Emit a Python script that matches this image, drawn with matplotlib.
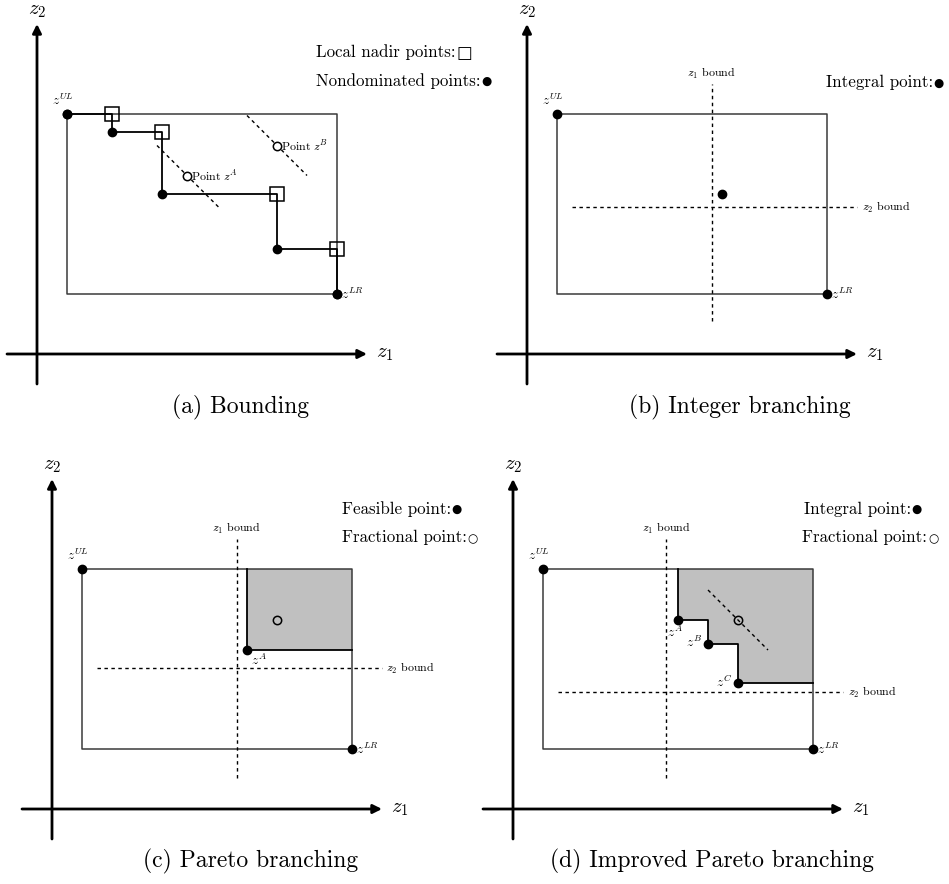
import numpy as np
import matplotlib.pyplot as plt

plt.rcParams['font.family'] = ['cmr10', 'DejaVu Sans']
plt.rcParams['mathtext.fontset'] = 'cm'
plt.rcParams['axes.unicode_minus'] = False

W, H = 949, 884
S = 15.0  # pixels per unit

# ---------------- data ----------------
axis_lo, axis_hi = -2, 22
box_z1 = [2, 20]          # z^UL z1, z^LR z1
box_z2 = [4, 16]          # z^LR z2, z^UL z2

# (a) bounding
a_nd_z1 = [2, 5, 8.3, 16, 20]
a_nd_z2 = [16, 14.8, 10.7, 7, 4]
a_frac_z1 = [10, 16]
a_frac_z2 = [11.9, 13.9]
a_frac_labels = ['Point $z^A$', 'Point $z^B$']
a_cut_z1 = [[8, 12.1], [14, 18]]
a_cut_z2 = [[13.9, 9.8], [15.9, 11.9]]

# (b) integer branching
b_pt = (13, 10.7)
b_z1_bound, b_z1_span = 12.3, [2.2, 18]
b_z2_bound, b_z2_span = 9.8, [3, 22]

# (c) Pareto branching
c_zA = (13, 10.6)
c_frac = (15, 12.6)
c_z1_bound, c_z1_span = 12.3, [2.1, 18]
c_z2_bound, c_z2_span = 9.4, [3, 22]

# (d) improved Pareto branching
d_pts_z1 = [11, 13, 15]
d_pts_z2 = [12.6, 11, 8.4]
d_pts_labels = ['$z^A$', '$z^B$', '$z^C$']
d_frac = (15, 12.6)
d_cut_z1 = [13, 17]
d_cut_z2 = [14.6, 10.6]
d_z1_bound, d_z1_span = 10.2, [2.1, 18]
d_z2_bound, d_z2_span = 7.8, [3, 22]

# ---------------- layout ----------------
fig = plt.figure(figsize=(W / 100, H / 100), dpi=100)

def panel(px0, py0, pw, ph, ox, oy):
    ax = fig.add_axes([px0 / W, 1 - (py0 + ph) / H, pw / W, ph / H])
    ax.set_xlim((px0 - ox) / S, (px0 + pw - ox) / S)
    ax.set_ylim((oy - (py0 + ph)) / S, (oy - py0) / S)
    ax.axis('off')
    ax.patch.set_alpha(0)
    return ax

BOX = '#3a3a3a'
DASH = (0, (2.5, 2.5))
SMALL = 8.6
PLAB = 9.6

def axes_arrows(ax):
    ap = dict(arrowstyle='-|>', lw=2, color='k', mutation_scale=13,
              shrinkA=0, shrinkB=0)
    ax.annotate('', xy=(axis_hi, 0), xytext=(axis_lo, 0), arrowprops=ap)
    ax.annotate('', xy=(0, axis_hi), xytext=(0, axis_lo), arrowprops=ap)
    ax.text(axis_hi + 0.6, 0, '$z_1$', fontsize=15, ha='left', va='center')
    ax.text(0, axis_hi + 0.25, '$z_2$', fontsize=15, ha='center', va='bottom')

def box(ax):
    x0, x1 = box_z1
    y0, y1 = box_z2
    ax.plot([x0, x1, x1, x0, x0], [y1, y1, y0, y0, y1], color=BOX, lw=1.1,
            zorder=2)

def corners(ax):
    ax.plot(box_z1, box_z2[::-1], 'o', color='k', ms=6, zorder=5)
    ax.annotate('$z^{UL}$', (box_z1[0], box_z2[1]), xytext=(-3, 4),
                textcoords='offset points', ha='center', va='bottom',
                fontsize=PLAB)
    ax.annotate('$z^{LR}$', (box_z1[1], box_z2[0]), xytext=(3, 0),
                textcoords='offset points', ha='left', va='center',
                fontsize=PLAB)

def bounds(ax, v1, span1, v2, span2):
    ax.plot([v1, v1], span1, color='k', lw=1, ls=DASH)
    ax.plot(span2, [v2, v2], color='k', lw=1, ls=DASH)
    ax.text(v1, span1[1] + 0.2, '$z_1$ bound', fontsize=SMALL, ha='center',
            va='bottom')
    ax.text(span2[1] + 0.3, v2, '$z_2$ bound', fontsize=SMALL, ha='left',
            va='center')

def key(ax, x, y, label, glyph, gsize):
    t = ax.text(x, y, label, fontsize=12.2, ha='left', va='center',
                clip_on=False)
    ax.annotate(glyph, xy=(1, 0.45), xycoords=t, xytext=(0.5, 0),
                textcoords='offset points', ha='left', va='center',
                fontsize=gsize, family='DejaVu Sans')

# (a)
ax = panel(0, 0, 475, 440, 37, 354)
axes_arrows(ax)
box(ax)
ax.step(a_nd_z1, a_nd_z2, where='post', color='k', lw=1.3, zorder=3)
ax.plot(a_nd_z1, a_nd_z2, 'o', color='k', ms=6, zorder=5)
ax.plot(a_nd_z1[1:], a_nd_z2[:-1], 's', mfc='none', mec='k', ms=9.5,
        mew=1.1, zorder=6)
for cz1, cz2 in zip(a_cut_z1, a_cut_z2):
    ax.plot(cz1, cz2, color='k', lw=1, ls=DASH)
ax.plot(a_frac_z1, a_frac_z2, 'o', mfc='white', mec='k', ms=6, mew=1.1,
        zorder=5)
for x, y, lab in zip(a_frac_z1, a_frac_z2, a_frac_labels):
    ax.annotate(lab, (x, y), xytext=(3, 0), textcoords='offset points',
                ha='left', va='center', fontsize=SMALL)
corners(ax)
key(ax, 18.6, 20.1, 'Local nadir points:', '\u25a1', 12)
key(ax, 18.6, 18.2, 'Nondominated points:', '\u25cf', 8.5)

# (b)
ax = panel(475, 0, 474, 440, 527, 354)
axes_arrows(ax)
box(ax)
bounds(ax, b_z1_bound, b_z1_span, b_z2_bound, b_z2_span)
ax.plot(*b_pt, 'o', color='k', ms=6, zorder=5)
corners(ax)
key(ax, 19.9, 18.1, 'Integral point:', '\u25cf', 8.5)

# (c)
ax = panel(0, 440, 475, 444, 52, 809)
axes_arrows(ax)
ax.fill_between([c_zA[0], box_z1[1]], c_zA[1], box_z2[1], color='#c0c0c0',
                lw=0, zorder=1)
box(ax)
ax.plot([c_zA[0], c_zA[0], box_z1[1]], [box_z2[1], c_zA[1], c_zA[1]],
        color='k', lw=1.3, zorder=3)
bounds(ax, c_z1_bound, c_z1_span, c_z2_bound, c_z2_span)
ax.plot(*c_zA, 'o', color='k', ms=6, zorder=5)
ax.annotate('$z^A$', c_zA, xytext=(3, -2), textcoords='offset points',
            ha='left', va='top', fontsize=PLAB)
ax.plot(*c_frac, 'o', mfc='none', mec='k', ms=6, mew=1.1, zorder=5)
corners(ax)
key(ax, 19.3, 20.0, 'Feasible point:', '\u25cf', 8.5)
key(ax, 19.3, 18.1, 'Fractional point:', '\u25cb', 8.5)

# (d)
# staircase: from top edge down to z^A, then right/down through each point
px = [d_pts_z1[0]]
py = [box_z2[1]]
nxt = d_pts_z1[1:] + [box_z1[1]]
for x, y, xn in zip(d_pts_z1, d_pts_z2, nxt):
    px += [x, xn]
    py += [y, y]
ax = panel(475, 440, 474, 444, 513, 809)
axes_arrows(ax)
ax.fill(px + [box_z1[1]], py + [box_z2[1]], color='#c0c0c0', lw=0, zorder=1)
box(ax)
ax.plot(px, py, color='k', lw=1.3, zorder=3)
bounds(ax, d_z1_bound, d_z1_span, d_z2_bound, d_z2_span)
ax.plot(d_cut_z1, d_cut_z2, color='k', lw=1, ls=DASH)
ax.plot(d_pts_z1, d_pts_z2, 'o', color='k', ms=6, zorder=5)
offs = [((-2, -3), 'center', 'top'), ((-4, 1), 'right', 'center'),
        ((-4, 1), 'right', 'center')]
for x, y, lab, (o, ha, va) in zip(d_pts_z1, d_pts_z2, d_pts_labels, offs):
    ax.annotate(lab, (x, y), xytext=o, textcoords='offset points', ha=ha,
                va=va, fontsize=PLAB)
ax.plot(*d_frac, 'o', mfc='none', mec='k', ms=6, mew=1.1, zorder=5)
corners(ax)
key(ax, 19.4, 20.0, 'Integral point:', '\u25cf', 8.5)
key(ax, 19.3, 18.1, 'Fractional point:', '\u25cb', 8.5)

# captions
for x, y, s in [(241, 407, '(a) Bounding'), (740, 407, '(b) Integer branching'),
                (251, 861, '(c) Pareto branching'),
                (712, 861, '(d) Improved Pareto branching')]:
    fig.text(x / W, 1 - y / H, s, fontsize=17, ha='center', va='center')

fig.savefig('out.png', dpi=100)
